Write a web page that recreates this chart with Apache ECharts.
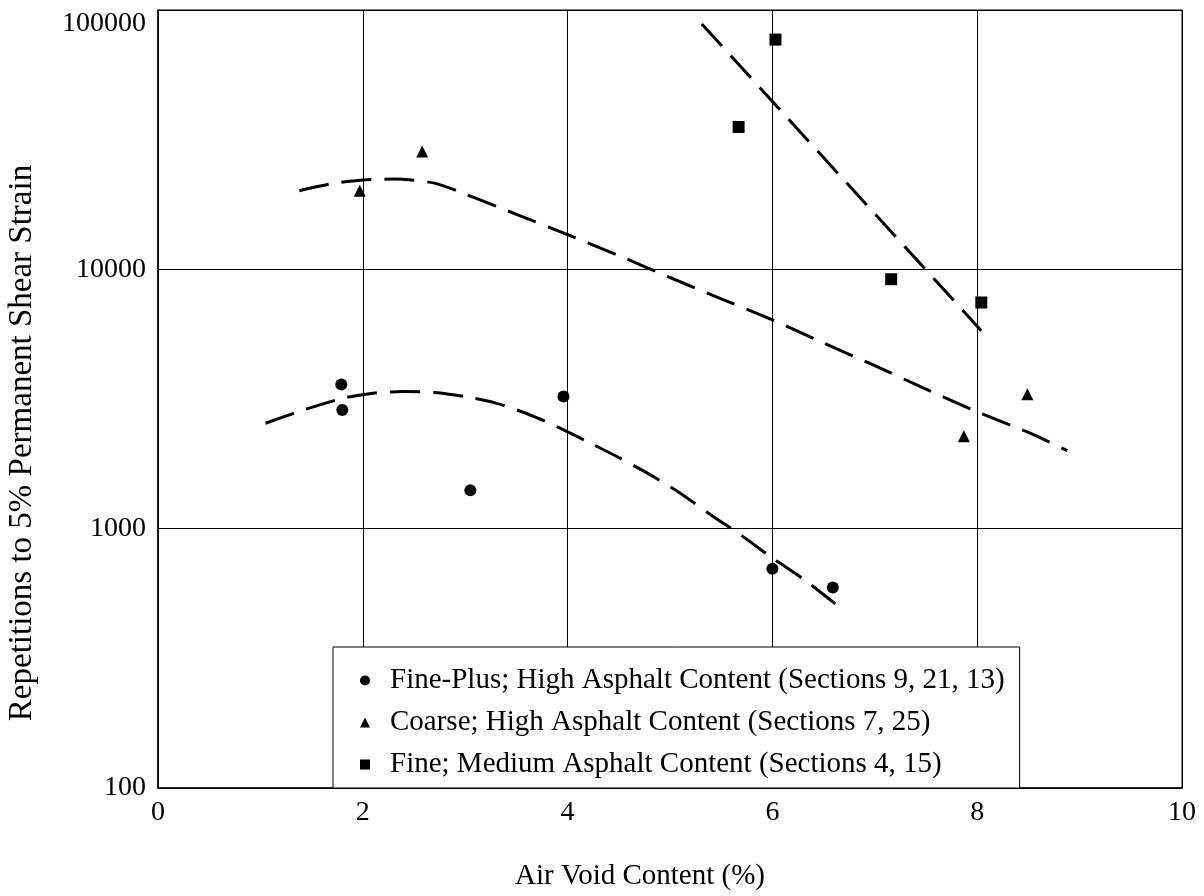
<!DOCTYPE html>
<html>
<head>
<meta charset="utf-8">
<script src="https://cdn.jsdelivr.net/npm/echarts@6/dist/echarts.min.js"></script>
<style>
  html, body { margin: 0; padding: 0; background: #ffffff; }
  #chart { width: 1204px; height: 896px; }
</style>
</head>
<body>
<div id="chart"></div>
<script>
// ---- data ----
const xTickLabels = ['0', '2', '4', '6', '8', '10'];
const yTickLabels = ['100', '1000', '10000', '100000'];

const seriesNames = [
  'Fine-Plus; High Asphalt Content (Sections 9, 21, 13)',
  'Coarse; High Asphalt Content (Sections 7, 25)',
  'Fine; Medium Asphalt Content (Sections 4, 15)'
];

const finePlusX = [1.79, 1.80, 3.05, 3.96, 6.00, 6.59];
const finePlusY = [3600, 2870, 1405, 3230, 700, 593];

const coarseX = [1.97, 2.58, 7.87, 8.49];
const coarseY = [20100, 28500, 2270, 3300];

const fineX = [5.67, 6.03, 7.16, 8.04];
const fineY = [35400, 76900, 9160, 7450];

// dashed trend curves
const finePlusFitX = [1.05, 1.4, 1.8, 2.1, 2.4, 2.7, 3.0, 3.3, 3.6, 3.9, 4.2, 4.5, 4.8, 5.1, 5.4, 5.7, 6.0, 6.3, 6.65];
const finePlusFitY = [2550, 2850, 3180, 3330, 3380, 3350, 3230, 3050, 2780, 2470, 2160, 1880, 1620, 1370, 1130, 940, 770, 640, 500];

const coarseFitX = [1.38, 1.7, 2.0, 2.3, 2.7, 3.0, 3.5, 4.0, 4.5, 5.0, 5.5, 6.0, 6.5, 7.0, 7.5, 8.0, 8.5, 8.88];
const coarseFitY = [20100, 21400, 22100, 22300, 21500, 19500, 16300, 13600, 11300, 9300, 7700, 6380, 5200, 4250, 3450, 2820, 2350, 2000];

const fineFitX = [5.31, 8.04];
const fineFitY = [88400, 5800];

const xAxisTitle = 'Air Void Content (%)';
const yAxisTitle = 'Repetitions to 5% Permanent Shear Strain';

// ---- build ----
const zip = (xs, ys) => xs.map((x, i) => [x, ys[i]]);
const FONT = '"Liberation Serif", "Times New Roman", serif';

const dashStyle = { color: '#000', width: 3, type: [30, 13], cap: 'butt' };
const markStyle = { color: '#000', opacity: 1 };

const chart = echarts.init(document.getElementById('chart'), null, { renderer: 'canvas' });

chart.setOption({
  backgroundColor: '#ffffff',
  animation: false,
  textStyle: { fontFamily: FONT, color: '#000' },
  grid: {
    left: 158, right: 22, top: 10, bottom: 108,
    show: true, borderColor: '#000', borderWidth: 1, backgroundColor: 'transparent'
  },
  xAxis: {
    type: 'value', min: 0, max: 10, interval: 2,
    axisLine: { show: true, lineStyle: { color: '#000', width: 1.5 } },
    axisTick: { show: false },
    splitLine: { show: true, lineStyle: { color: '#000', width: 1 } },
    axisLabel: {
      fontFamily: FONT, fontSize: 28, color: '#000', margin: 11,
      formatter: (v) => xTickLabels[Math.round(v / 2)]
    }
  },
  yAxis: {
    type: 'log', logBase: 10, min: 100, max: 100000,
    axisLine: { show: true, lineStyle: { color: '#000', width: 1.5 } },
    axisTick: { show: false },
    splitLine: { show: true, lineStyle: { color: '#000', width: 1 } },
    axisLabel: {
      fontFamily: FONT, fontSize: 28, color: '#000', margin: 12,
      verticalAlignMaxLabel: 'top',
      formatter: (v) => yTickLabels[Math.round(Math.log10(v)) - 2]
    }
  },
  legend: {
    data: seriesNames,
    orient: 'vertical',
    left: 333, top: 647,
    backgroundColor: '#ffffff',
    borderColor: '#000', borderWidth: 1,
    padding: [19, 15, 9, 27],
    itemGap: 13,
    itemWidth: 10, itemHeight: 10,
    textStyle: { fontFamily: FONT, fontSize: 29, color: '#000', padding: [0, 0, 0, 15] },
    selectedMode: false
  },
  graphic: [
    {
      type: 'text', x: 640, y: 876,
      style: { text: xAxisTitle, font: '29px ' + FONT, fill: '#000', align: 'center', verticalAlign: 'middle' }
    },
    {
      type: 'text', x: 22, y: 443, rotation: Math.PI / 2,
      style: { text: yAxisTitle, font: '33px ' + FONT, fill: '#000', align: 'center', verticalAlign: 'middle' }
    }
  ],
  series: [
    {
      name: seriesNames[0], type: 'scatter', symbol: 'circle', symbolSize: 12,
      itemStyle: markStyle, data: zip(finePlusX, finePlusY), z: 5
    },
    {
      name: seriesNames[1], type: 'scatter', symbol: 'triangle', symbolSize: 12,
      itemStyle: markStyle, data: zip(coarseX, coarseY), z: 5
    },
    {
      name: seriesNames[2], type: 'scatter', symbol: 'rect', symbolSize: 12,
      itemStyle: markStyle, data: zip(fineX, fineY), z: 5
    },
    {
      type: 'line', smooth: 0.25, showSymbol: false, symbol: 'none',
      lineStyle: dashStyle, data: zip(finePlusFitX, finePlusFitY), z: 3
    },
    {
      type: 'line', smooth: 0.25, showSymbol: false, symbol: 'none',
      lineStyle: dashStyle, data: zip(coarseFitX, coarseFitY), z: 3
    },
    {
      type: 'line', smooth: false, showSymbol: false, symbol: 'none',
      lineStyle: dashStyle, data: zip(fineFitX, fineFitY), z: 3
    }
  ]
});
</script>
</body>
</html>
